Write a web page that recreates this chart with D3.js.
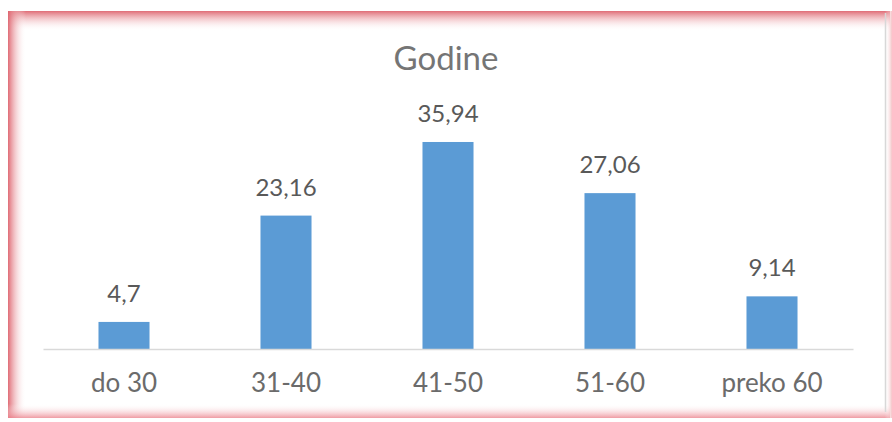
<!DOCTYPE html>
<html>
<head>
<meta charset="utf-8">
<script src="https://cdn.jsdelivr.net/npm/d3@7"></script>
<style>
  body { margin: 0; background: #fff; }
  svg { display: block; font-family: Lato, "Open Sans", sans-serif; }
</style>
</head>
<body>
<svg width="892" height="422"></svg>
<script>
const categories = ["do 30", "31-40", "41-50", "51-60", "preko 60"];
const values = [4.7, 23.16, 35.94, 27.06, 9.14];
const valueLabels = ["4,7", "23,16", "35,94", "27,06", "9,14"];

const svg = d3.select("svg"),
  width = +svg.attr("width"),
  height = +svg.attr("height");

const baseline = 349;

// Frame glow
const defs = svg.append("defs");
function grad(id, x1, y1, x2, y2, c0, c1) {
  const g = defs.append("linearGradient").attr("id", id)
    .attr("x1", x1).attr("y1", y1).attr("x2", x2).attr("y2", y2);
  g.append("stop").attr("offset", "0%").attr("stop-color", c0);
  g.append("stop").attr("offset", "100%").attr("stop-color", c1);
}
grad("gTop", 0, 0, 0, 1, "rgba(222,100,110,0.95)", "rgba(255,255,255,0)");
grad("gLeft", 0, 0, 1, 0, "rgba(222,100,110,0.95)", "rgba(255,255,255,0)");
grad("gBot", 0, 1, 0, 0, "rgba(235,130,140,0.8)", "rgba(255,255,255,0)");
grad("gRight", 1, 0, 0, 0, "rgba(240,170,175,0.7)", "rgba(255,255,255,0)");

const frame = svg.append("g");
frame.append("rect").attr("x", 8).attr("y", 11).attr("width", 882).attr("height", 20).attr("fill", "url(#gTop)");
frame.append("rect").attr("x", 8).attr("y", 11).attr("width", 18).attr("height", 407).attr("fill", "url(#gLeft)");
frame.append("rect").attr("x", 8).attr("y", 404).attr("width", 882).attr("height", 14).attr("fill", "url(#gBot)");
frame.append("rect").attr("x", 885).attr("y", 11).attr("width", 7).attr("height", 407).attr("fill", "url(#gRight)");
frame.append("line").attr("x1", 885.5).attr("x2", 885.5).attr("y1", 13).attr("y2", 412)
  .attr("stroke", "#d8d8d8").attr("stroke-width", 1.5);

// Scales
const x = d3.scaleBand()
  .domain(categories)
  .range([43, 853])
  .paddingInner(0.685)
  .paddingOuter(0.3425);

const y = d3.scaleLinear()
  .domain([0, 40])
  .range([baseline, baseline - 40 * 5.76]);

// Title
svg.append("text")
  .attr("x", 446)
  .attr("y", 70)
  .attr("text-anchor", "middle")
  .attr("font-size", 33)
  .attr("fill", "#757575")
  .text("Godine");

// Bars
svg.append("g")
  .selectAll("rect")
  .data(values)
  .enter()
  .append("rect")
  .attr("x", (d, i) => x(categories[i]))
  .attr("y", (d) => y(d))
  .attr("width", x.bandwidth())
  .attr("height", (d) => baseline - y(d))
  .attr("fill", "#5b9bd5");

// Value labels
svg.append("g")
  .selectAll("text")
  .data(values)
  .enter()
  .append("text")
  .attr("x", (d, i) => x(categories[i]) + x.bandwidth() / 2)
  .attr("y", (d) => y(d) - 20)
  .attr("text-anchor", "middle")
  .attr("font-size", 24)
  .attr("fill", "#595959")
  .text((d, i) => valueLabels[i]);

// Category axis
const axis = svg.append("g")
  .attr("transform", `translate(0,${baseline})`)
  .call(d3.axisBottom(x).tickSize(0).tickPadding(25));
axis.select(".domain").attr("stroke", "#d9d9d9").attr("stroke-width", 1.5);
axis.selectAll("text")
  .attr("font-family", "Lato, 'Open Sans', sans-serif")
  .attr("font-size", 26)
  .attr("fill", "#6b6b6b");
</script>
</body>
</html>
